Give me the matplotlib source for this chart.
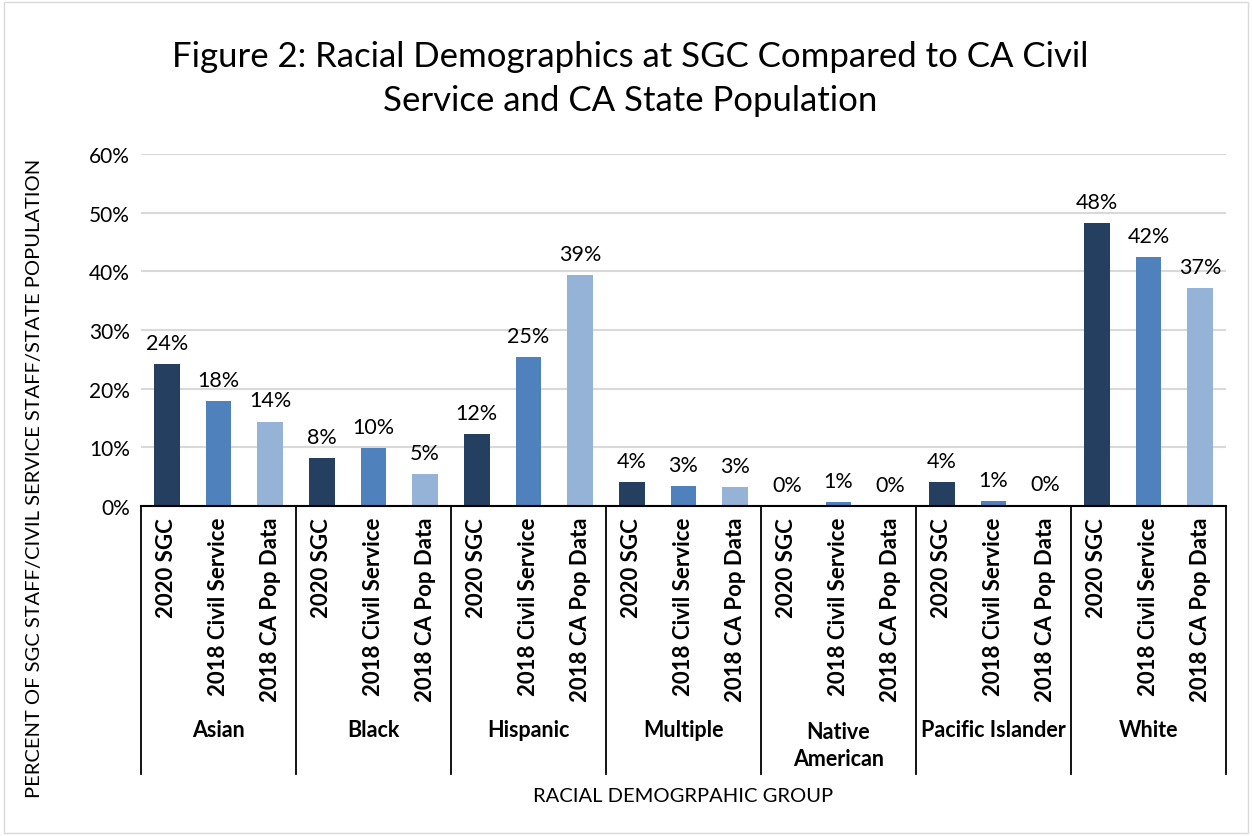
import numpy as np
import matplotlib.pyplot as plt
from matplotlib.transforms import blended_transform_factory
from matplotlib.patches import Rectangle
from matplotlib.lines import Line2D

plt.rcParams['font.family'] = ['Lato', 'DejaVu Sans']

# données
groups = ["Asian", "Black", "Hispanic", "Multiple", "Native\nAmerican",
          "Pacific Islander", "White"]
series = ["2020 SGC", "2018 Civil Service", "2018 CA Pop Data"]
sgc_2020 = [0.242, 0.082, 0.123, 0.041, 0.0, 0.041, 0.482]
civil_2018 = [0.179, 0.099, 0.254, 0.034, 0.007, 0.009, 0.424]
pop_2018 = [0.144, 0.054, 0.394, 0.033, 0.0, 0.002, 0.371]
yticks = [0, 0.1, 0.2, 0.3, 0.4, 0.5, 0.6]

colors = ["#243F60", "#4F81BD", "#95B3D7"]


def main():
    fig = plt.figure(figsize=(12.52, 8.37), dpi=100)
    ax = fig.add_axes([141/1252, 1-507/837, (1226-141)/1252, (507-155)/837])

    values = [sgc_2020, civil_2018, pop_2018]
    n = len(groups)
    for j, vals in enumerate(values):
        x = np.arange(n)*3 + j
        ax.bar(x, vals, width=0.5, color=colors[j], zorder=3)
        for xi, v in zip(x, vals):
            ax.annotate("{:.0f}%".format(v*100), (xi, v), xytext=(0, 8),
                        textcoords="offset points", ha="center", va="bottom",
                        fontsize=15.5, color="#000000")

    ax.set_xlim(-0.5, n*3 - 0.5)
    ax.set_ylim(0, 0.6)
    ax.set_yticks(yticks)
    ax.set_yticklabels(["{:.0f}%".format(t*100) for t in yticks], fontsize=15)
    ax.yaxis.grid(True, color="#d9d9d9", linewidth=1.5, zorder=0)
    ax.tick_params(axis="y", length=0, pad=8)
    ax.set_xticks([])
    for s in ["top", "right", "left"]:
        ax.spines[s].set_visible(False)
    ax.spines["bottom"].set_linewidth(1.5)
    ax.spines["bottom"].set_zorder(4)

    # axe des catégories à deux niveaux
    tr = blended_transform_factory(ax.transData, fig.transFigure)
    for i in range(n + 1):
        xs = i*3 - 0.5
        fig.add_artist(Line2D([xs, xs], [1-507/837, 1-775/837], transform=tr,
                              color="black", linewidth=1.3))
    for i, g in enumerate(groups):
        for j, s in enumerate(series):
            fig.text(i*3 + j, 1-518/837, s, transform=tr, rotation=90,
                     ha="center", va="top", fontsize=16, fontweight="bold")
        gy = 1-746/837 if "\n" in g else 1-731/837
        fig.text(i*3 + 1, gy, g, transform=tr, ha="center", va="center",
                 fontsize=15.5, fontweight="bold", linespacing=1.35)

    fig.text(0.503, 1-79/837, "Figure 2: Racial Demographics at SGC Compared to CA Civil\n"
             "Service and CA State Population", ha="center", va="center",
             fontsize=25, linespacing=1.45)
    fig.text(35/1252, 1-478/837,
             "PERCENT OF SGC STAFF/CIVIL SERVICE STAFF/STATE POPULATION",
             rotation=90, ha="center", va="center", fontsize=14.5)
    fig.text(683/1252, 1-797/837, "RACIAL DEMOGRPAHIC GROUP",
             ha="center", va="center", fontsize=14.5)

    fig.add_artist(Rectangle((0.003, 0.003), 0.994, 0.994, transform=fig.transFigure,
                             fill=False, edgecolor="#d9d9d9", linewidth=1))

    fig.savefig("out.png", dpi=100)


if __name__ == "__main__":
    main()
